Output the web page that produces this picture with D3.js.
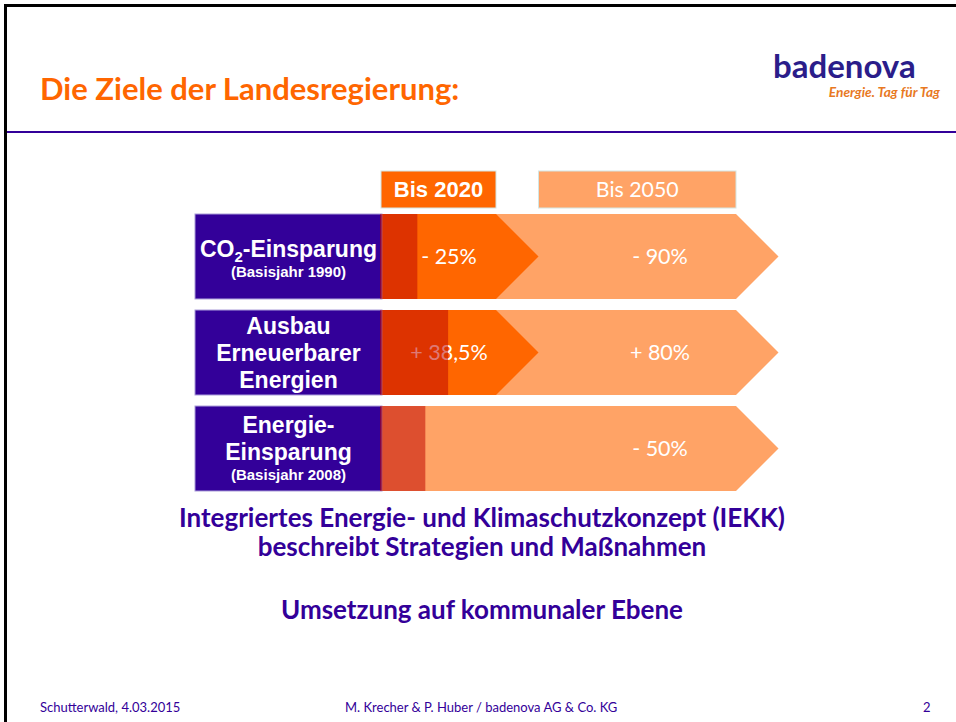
<!DOCTYPE html>
<html lang="de">
<head>
<meta charset="utf-8">
<script src="https://d3js.org/d3.v7.min.js"></script>
<style>
*{margin:0;padding:0}
body{width:956px;height:722px;overflow:hidden;background:#fff}
svg{display:block}
</style>
</head>
<body>
<script>
// Ziele: Zeilen, Zielwerte je Zeitraum, bereits erreichter Anteil (rote Markierung)
const categories=['CO2-Einsparung','Ausbau Erneuerbarer Energien','Energie-Einsparung'];
const labelLines=[
    ['CO₂-Einsparung','(Basisjahr 1990)'],
    ['Ausbau','Erneuerbarer','Energien'],
    ['Energie-','Einsparung','(Basisjahr 2008)']
];
const periods=['Bis 2020','Bis 2050'];
const periodYears=[2020,2050];
const startYear=2015;
const targets2020=['- 25%','+ 38,5%',null];
const targets2050=['- 90%','+ 80%','- 50%'];
const achieved=[0.31,0.58,0.38];
const notes=['Integriertes Energie- und Klimaschutzkonzept (IEKK)','beschreibt Strategien und Maßnahmen','Umsetzung auf kommunaler Ebene'];
const footer=['Schutterwald, 4.03.2015','M. Krecher & P. Huber / badenova AG & Co. KG','2'];

const width=956,height=722;
const purple='#330099',orange='#ff6600',light='#ffa366',overlay='rgba(192,8,0,0.54)';
const calibri='Lato, "Open Sans", sans-serif';
const arial='"Liberation Sans", Arial, sans-serif';

const svg=d3.select('body').append('svg')
    .attr('width',width)
    .attr('height',height);

// Rahmen + Kopflinie
svg.append('path')
    .attr('d',`M5.5,${height} V5.5 H${width}`)
    .attr('fill','none')
    .attr('stroke','#000')
    .attr('stroke-width',3);
svg.append('line')
    .attr('x1',7).attr('x2',width)
    .attr('y1',132).attr('y2',132)
    .attr('stroke',purple)
    .attr('stroke-width',2);

svg.append('text')
    .attr('x',40).attr('y',100)
    .attr('font-family',calibri)
    .attr('font-weight','bold')
    .attr('font-size',31)
    .attr('fill',orange)
    .text('Die Ziele der Landesregierung:');

// Logo
svg.append('text')
    .attr('x',773).attr('y',78)
    .attr('font-family',calibri)
    .attr('font-weight','bold')
    .attr('font-size',33)
    .attr('fill','#2b1d8a')
    .text('badenova');
svg.append('text')
    .attr('x',940).attr('y',97)
    .attr('text-anchor','end')
    .attr('font-family',calibri)
    .attr('font-weight','bold')
    .attr('font-style','italic')
    .attr('font-size',13.7)
    .attr('fill','#e8791f')
    .text('Energie. Tag für Tag');

// Skalen
const x=d3.scaleLinear()
    .domain([startYear,...periodYears])
    .range([382,496,736]);
const y=d3.scaleBand()
    .domain(categories)
    .range([214,491])
    .paddingInner(0.115);
const h=y.bandwidth();
const xDone=d3.scaleLinear().domain([0,1]).range([x(startYear),x(2020)]);
const labelLeft=195;

const arrow=(x0,x1,top)=>{
    const p=d3.path();
    p.moveTo(x0,top);
    p.lineTo(x1,top);
    p.lineTo(x1+h/2,top+h/2);
    p.lineTo(x1,top+h);
    p.lineTo(x0,top+h);
    p.closePath();
    return p.toString();
};

// Kopfzeilen Bis 2020 / Bis 2050
const headers=[
    {label:periods[0],x0:x(startYear)-1,x1:x(2020),fill:orange,weight:'bold',font:arial,size:22},
    {label:periods[1],x0:x(2020)+h/2,x1:x(2050),fill:light,weight:'normal',font:calibri,size:21.3}
];
const hg=svg.append('g').attr('id','headers');
hg.selectAll('rect')
    .data(headers)
    .enter()
    .append('rect')
    .attr('x',d=>d.x0)
    .attr('y',171)
    .attr('width',d=>d.x1-d.x0)
    .attr('height',37)
    .attr('fill',d=>d.fill)
    .attr('stroke','#d3e6e4')
    .attr('stroke-width',1);
hg.selectAll('text')
    .data(headers)
    .enter()
    .append('text')
    .attr('x',d=>(d.x0+d.x1)/2)
    .attr('y',189.5)
    .attr('dy','0.35em')
    .attr('text-anchor','middle')
    .attr('font-family',d=>d.font)
    .attr('font-weight',d=>d.weight)
    .attr('font-size',d=>d.size)
    .attr('fill','#fff')
    .text(d=>d.label);

const rows=categories.map((c,i)=>({
    cat:c,lines:labelLines[i],t2020:targets2020[i],t2050:targets2050[i],done:achieved[i]
}));

const row=svg.selectAll('g.row')
    .data(rows)
    .enter()
    .append('g')
    .attr('class','row');

row.append('path')
    .attr('d',d=>arrow(x(startYear),x(2050),y(d.cat)))
    .attr('fill',light);
row.filter(d=>d.t2020)
    .append('path')
    .attr('d',d=>arrow(x(startYear),x(2020),y(d.cat)))
    .attr('fill',orange);

row.append('rect')
    .attr('x',labelLeft)
    .attr('y',d=>y(d.cat))
    .attr('width',x(startYear)-labelLeft)
    .attr('height',h)
    .attr('fill',purple)
    .attr('stroke','#a99bd8')
    .attr('stroke-width',1);

// Zielwerte
row.filter(d=>d.t2020)
    .append('text')
    .attr('x',x(2020)-47)
    .attr('y',d=>y(d.cat)+h/2)
    .attr('dy','0.35em')
    .attr('text-anchor','middle')
    .attr('font-family',calibri)
    .attr('font-size',21.5)
    .attr('fill','#fff')
    .text(d=>d.t2020);
row.append('text')
    .attr('x',x(2050)-76)
    .attr('y',d=>y(d.cat)+h/2)
    .attr('dy','0.35em')
    .attr('text-anchor','middle')
    .attr('font-family',calibri)
    .attr('font-size',21.5)
    .attr('fill','#fff')
    .text(d=>d.t2050);

// bereits erreicht
row.append('rect')
    .attr('x',x(startYear)-2)
    .attr('y',d=>y(d.cat))
    .attr('width',d=>xDone(d.done)-x(startYear)+2)
    .attr('height',h)
    .attr('fill',overlay);

// Beschriftung der Zeilen
row.each(function(d){
    const g=d3.select(this);
    const lh=d.lines.map(l=>l.startsWith('(')?20.5:27);
    const total=d3.sum(lh);
    let base=y(d.cat)+h/2-total/2+21.5+(d.lines.length<3?2.5:0);
    d.lines.forEach((l,i)=>{
        const small=l.startsWith('(');
        const t=g.append('text')
            .attr('x',(labelLeft+x(startYear))/2)
            .attr('y',base)
            .attr('text-anchor','middle')
            .attr('font-family',arial)
            .attr('font-weight','bold')
            .attr('font-size',small?15:23)
            .attr('fill','#fff');
        if(l.includes('₂')){
            const parts=l.split('₂');
            t.append('tspan').text(parts[0]);
            t.append('tspan').attr('dy',5).attr('font-size',15).text('2');
            t.append('tspan').attr('dy',-5).text(parts[1]);
        }else{
            t.text(l);
        }
        base+=lh[i+1]||0;
    });
});

// Text unten
svg.selectAll('text.note')
    .data(notes)
    .enter()
    .append('text')
    .attr('class','note')
    .attr('x',482)
    .attr('y',(d,i)=>[527,556,619][i])
    .attr('text-anchor','middle')
    .attr('font-family',calibri)
    .attr('font-weight','bold')
    .attr('font-size',26)
    .attr('fill',purple)
    .text(d=>d);

svg.selectAll('text.foot')
    .data(footer)
    .enter()
    .append('text')
    .attr('class','foot')
    .attr('x',(d,i)=>[40,345,923][i])
    .attr('y',712)
    .attr('font-family',calibri)
    .attr('font-size',13)
    .attr('fill',purple)
    .text(d=>d);
</script>
</body>
</html>
